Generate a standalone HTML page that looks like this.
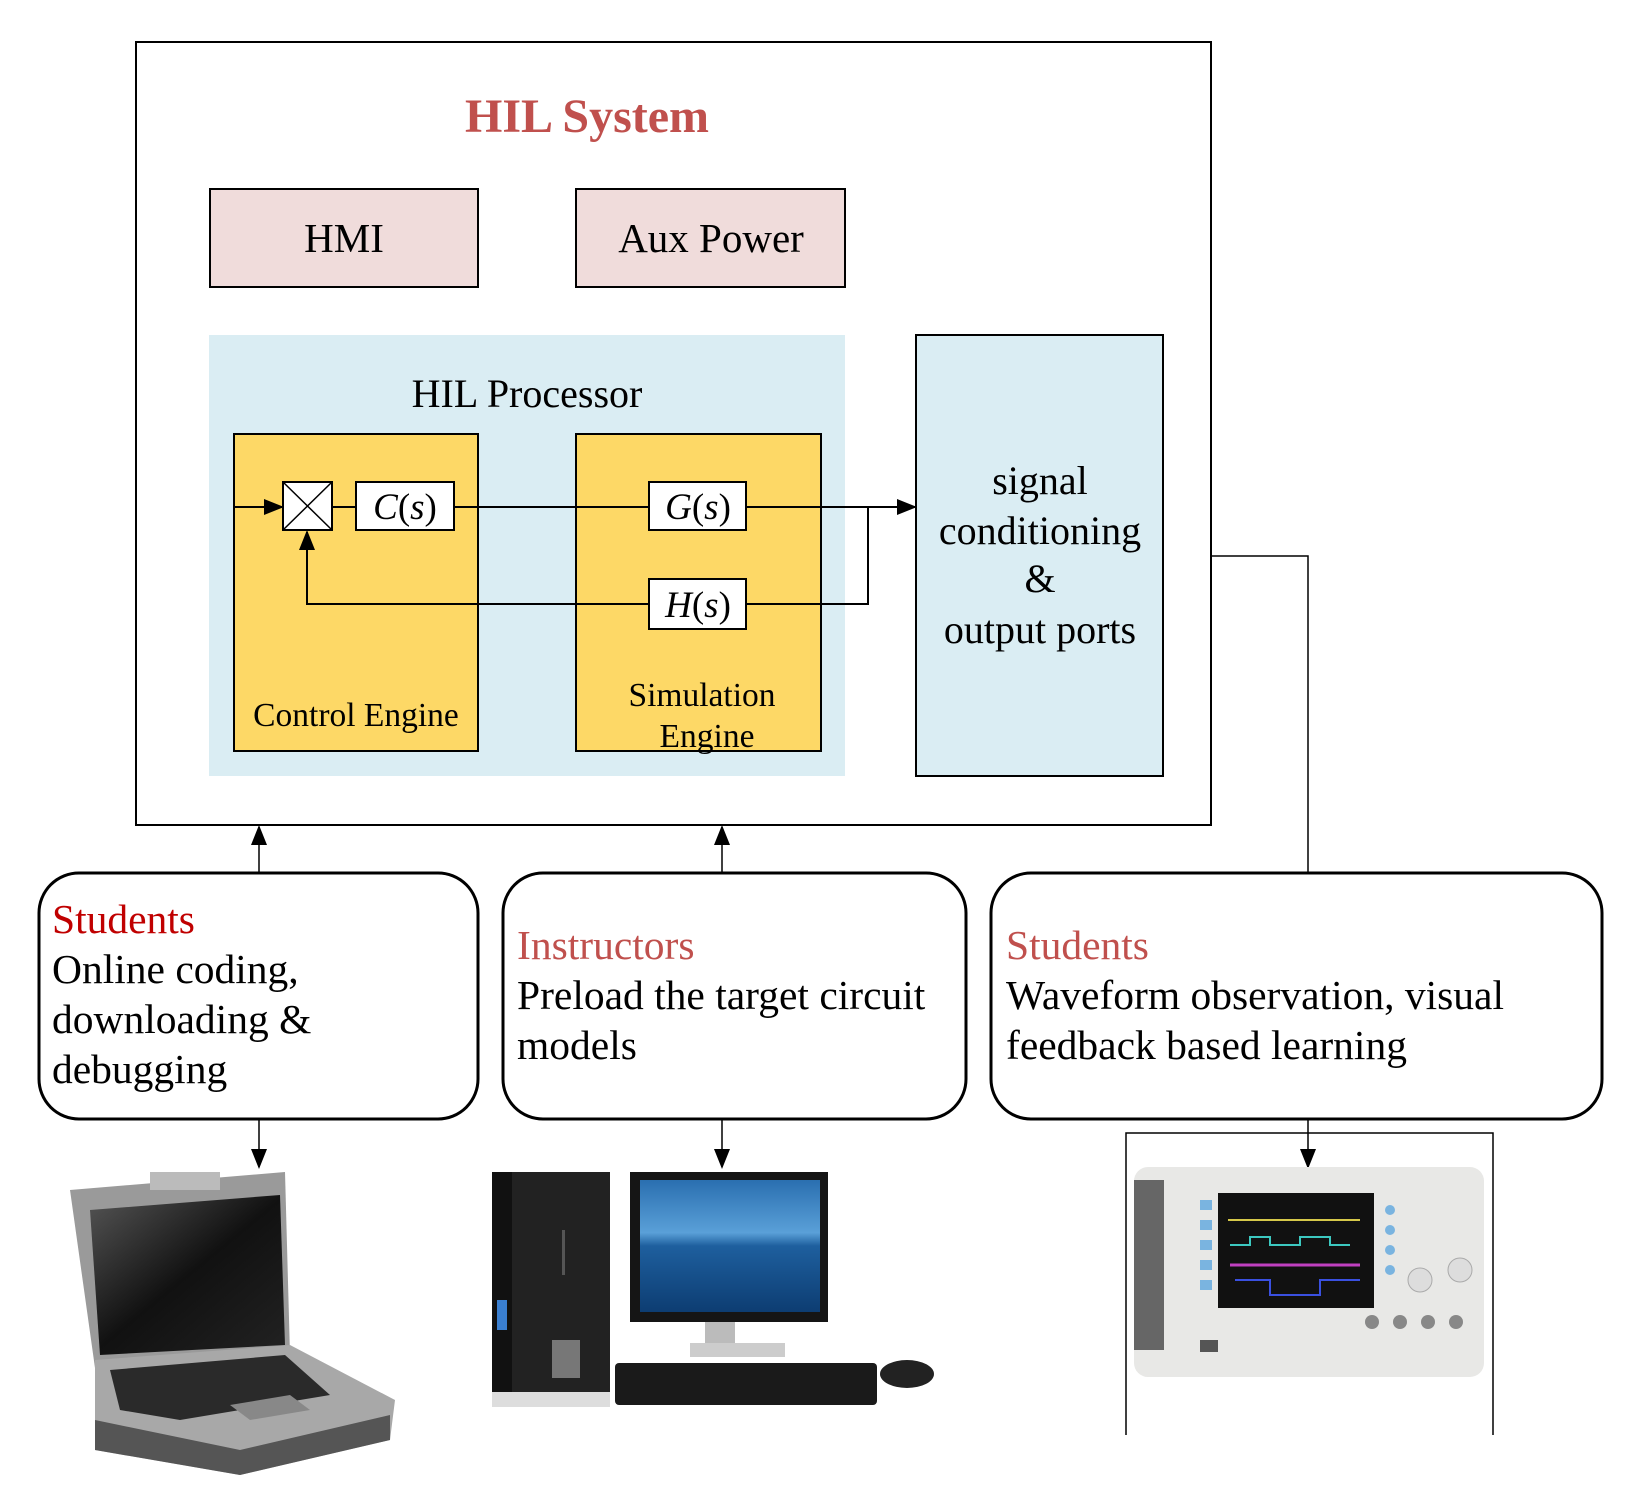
<!DOCTYPE html>
<html><head><meta charset="utf-8"><style>
html,body{margin:0;padding:0;background:#fff;}
svg{display:block;}
text{font-family:"Liberation Serif",serif;}
</style></head><body>
<svg width="1637" height="1509" viewBox="0 0 1637 1509" xmlns="http://www.w3.org/2000/svg">
<defs>
<marker id="ah2" markerWidth="20" markerHeight="20" refX="18" refY="10" orient="auto" markerUnits="userSpaceOnUse" viewBox="0 0 20 20">
<path d="M0,2 L20,10 L0,18 Z" fill="#000"/></marker>
<linearGradient id="scr" x1="0" y1="0" x2="0" y2="1"><stop offset="0" stop-color="#2a6fb0"/><stop offset="0.4" stop-color="#5aa0d8"/><stop offset="0.5" stop-color="#1e5f9e"/><stop offset="1" stop-color="#0d3d72"/></linearGradient>
<linearGradient id="lap" x1="0" y1="0" x2="1" y2="1"><stop offset="0" stop-color="#555"/><stop offset="0.5" stop-color="#111"/><stop offset="1" stop-color="#222"/></linearGradient>
</defs>

<rect x="136" y="42" width="1075" height="783" fill="#fff" stroke="#000" stroke-width="2"/>
<text x="587" y="132" font-size="48" font-weight="bold" fill="#c0504d" text-anchor="middle">HIL System</text>

<rect x="210" y="189" width="268" height="98" fill="#f0dcdb" stroke="#000" stroke-width="2"/>
<text x="344" y="252" font-size="41" text-anchor="middle">HMI</text>
<rect x="576" y="189" width="269" height="98" fill="#f0dcdb" stroke="#000" stroke-width="2"/>
<text x="711" y="252" font-size="41" text-anchor="middle">Aux Power</text>

<rect x="209" y="335" width="636" height="441" fill="#daedf3"/>
<text x="527" y="407" font-size="40" text-anchor="middle">HIL Processor</text>

<rect x="234" y="434" width="244" height="317" fill="#fdd866" stroke="#000" stroke-width="2"/>
<rect x="576" y="434" width="245" height="317" fill="#fdd866" stroke="#000" stroke-width="2"/>
<text x="356" y="726" font-size="33.5" text-anchor="middle">Control Engine</text>
<text x="702" y="706" font-size="33.5" text-anchor="middle">Simulation</text>
<text x="707" y="747" font-size="33.5" text-anchor="middle">Engine</text>

<rect x="916" y="335" width="247" height="441" fill="#daedf3" stroke="#000" stroke-width="2"/>
<g font-size="40" text-anchor="middle">
<text x="1040" y="494">signal</text>
<text x="1040" y="544">conditioning</text>
<text x="1040" y="592">&amp;</text>
<text x="1040" y="643">output ports</text>
</g>

<g stroke="#000" stroke-width="2" fill="none">
<line x1="234" y1="507" x2="282" y2="507" marker-end="url(#ah2)"/>
<line x1="332" y1="507" x2="356" y2="507"/>
<line x1="454" y1="507" x2="649" y2="507"/>
<line x1="746" y1="507" x2="915" y2="507" marker-end="url(#ah2)"/>
<polyline points="868,507 868,604 746,604"/>
<polyline points="649,604 307,604 307,532" marker-end="url(#ah2)"/>
</g>
<rect x="283" y="482" width="49" height="48" fill="#fff" stroke="#000" stroke-width="2"/>
<line x1="283" y1="482" x2="332" y2="530" stroke="#000" stroke-width="1.5"/>
<line x1="332" y1="482" x2="283" y2="530" stroke="#000" stroke-width="1.5"/>
<rect x="356" y="482" width="98" height="48" fill="#fff" stroke="#000" stroke-width="2"/>
<text x="405" y="519" font-size="37" text-anchor="middle"><tspan font-style="italic">C</tspan>(<tspan font-style="italic">s</tspan>)</text>
<rect x="649" y="482" width="97" height="48" fill="#fff" stroke="#000" stroke-width="2"/>
<text x="698" y="519" font-size="37" text-anchor="middle"><tspan font-style="italic">G</tspan>(<tspan font-style="italic">s</tspan>)</text>
<rect x="649" y="579" width="97" height="50" fill="#fff" stroke="#000" stroke-width="2"/>
<text x="698" y="617" font-size="37" text-anchor="middle"><tspan font-style="italic">H</tspan>(<tspan font-style="italic">s</tspan>)</text>

<g stroke="#000" stroke-width="1.5" fill="none">
<line x1="259" y1="873" x2="259" y2="827" marker-end="url(#ah2)"/>
<line x1="722" y1="873" x2="722" y2="827" marker-end="url(#ah2)"/>
<polyline points="1211,556 1308,556 1308,873"/>
<line x1="259" y1="1119" x2="259" y2="1167" marker-end="url(#ah2)"/>
<line x1="722" y1="1119" x2="722" y2="1167" marker-end="url(#ah2)"/>
<line x1="1308" y1="1119" x2="1308" y2="1167" marker-end="url(#ah2)"/>
</g>

<g fill="#fff" stroke="#000" stroke-width="3">
<rect x="39" y="873" width="439" height="246" rx="40"/>
<rect x="503" y="873" width="463" height="246" rx="40"/>
<rect x="991" y="873" width="611" height="246" rx="40"/>
</g>
<g font-size="41.5">
<text x="52" y="933" fill="#c00000">Students</text>
<text x="52" y="983">Online coding,</text>
<text x="52" y="1033">downloading &amp;</text>
<text x="52" y="1083">debugging</text>
<text x="517" y="959" fill="#c0504d">Instructors</text>
<text x="517" y="1009">Preload the target circuit</text>
<text x="517" y="1059">models</text>
<text x="1006" y="959" fill="#c0504d">Students</text>
<text x="1006" y="1009">Waveform observation, visual</text>
<text x="1006" y="1059">feedback  based learning</text>
</g>

<polygon points="70,1190 285,1172 290,1355 95,1368" fill="#9a9a9a"/>
<polygon points="90,1210 280,1195 285,1345 100,1355" fill="url(#lap)"/>
<rect x="150" y="1172" width="70" height="18" fill="#bbb"/>
<polygon points="95,1360 290,1345 395,1400 390,1440 240,1475 95,1450" fill="#a8a8a8"/>
<polygon points="110,1370 285,1355 330,1395 180,1420 120,1410" fill="#2a2a2a"/>
<polygon points="95,1420 240,1450 390,1415 390,1440 240,1475 95,1450" fill="#555"/>
<polygon points="230,1405 290,1395 310,1410 250,1420" fill="#888"/>

<rect x="492" y="1172" width="118" height="220" fill="#222"/>
<rect x="492" y="1172" width="20" height="220" fill="#111"/>
<rect x="492" y="1392" width="118" height="15" fill="#ddd"/>
<rect x="497" y="1300" width="10" height="30" fill="#3a7fd0"/>
<rect x="552" y="1340" width="28" height="38" fill="#777"/>
<rect x="562" y="1230" width="3" height="45" fill="#555"/>
<rect x="630" y="1172" width="198" height="150" fill="#151515"/>
<rect x="640" y="1180" width="180" height="132" fill="url(#scr)"/>
<rect x="705" y="1322" width="30" height="25" fill="#bbb"/>
<rect x="690" y="1343" width="95" height="14" fill="#ccc"/>
<rect x="615" y="1363" width="262" height="42" rx="4" fill="#1a1a1a"/>
<ellipse cx="907" cy="1374" rx="27" ry="14" fill="#222"/>

<polyline points="1126,1435 1126,1133 1493,1133 1493,1435" fill="none" stroke="#000" stroke-width="1.5"/>
<rect x="1134" y="1167" width="350" height="210" rx="14" fill="#e8e8e6"/>
<rect x="1134" y="1180" width="30" height="170" fill="#666"/>
<rect x="1218" y="1193" width="156" height="115" fill="#111"/>
<polyline points="1228,1220 1360,1220" stroke="#d6c84a" stroke-width="2"/>
<polyline points="1230,1245 1250,1245 1250,1237 1270,1237 1270,1245 1300,1245 1300,1237 1330,1237 1330,1245 1350,1245" fill="none" stroke="#3cc8c0" stroke-width="2"/>
<polyline points="1230,1265 1360,1265" stroke="#c040c0" stroke-width="3"/>
<polyline points="1235,1280 1270,1280 1270,1295 1320,1295 1320,1280 1360,1280" fill="none" stroke="#3a50e0" stroke-width="2"/>
<g fill="#7ab4e0"><rect x="1200" y="1200" width="12" height="10"/><rect x="1200" y="1220" width="12" height="10"/><rect x="1200" y="1240" width="12" height="10"/><rect x="1200" y="1260" width="12" height="10"/><rect x="1200" y="1280" width="12" height="10"/>
<circle cx="1390" cy="1210" r="5"/><circle cx="1390" cy="1230" r="5"/><circle cx="1390" cy="1250" r="5"/><circle cx="1390" cy="1270" r="5"/></g>
<circle cx="1420" cy="1280" r="12" fill="#ddd" stroke="#aaa"/><circle cx="1460" cy="1270" r="12" fill="#ddd" stroke="#aaa"/>
<g fill="#888"><circle cx="1372" cy="1322" r="7"/><circle cx="1400" cy="1322" r="7"/><circle cx="1428" cy="1322" r="7"/><circle cx="1456" cy="1322" r="7"/></g>
<rect x="1200" y="1340" width="18" height="12" fill="#555"/>
</svg>
</body></html>
